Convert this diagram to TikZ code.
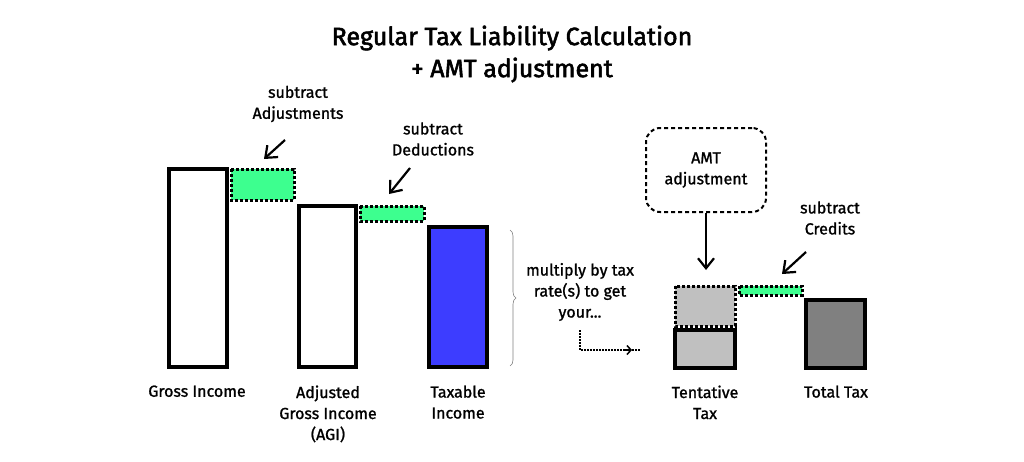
\documentclass[tikz,border=0pt]{standalone}
\usepackage{fontspec}
\setmainfont{Fira Sans}[FakeBold=1.2,BoldFont={Fira Sans},BoldFeatures={FakeBold=2.2}]
\usetikzlibrary{decorations.pathreplacing,arrows.meta}
\definecolor{gr}{HTML}{3DFF8F}
\definecolor{bl}{HTML}{3D3DFF}
\definecolor{lg}{HTML}{C0C0C0}
\definecolor{dg}{HTML}{808080}
\begin{document}
\begin{tikzpicture}[x=1pt,y=-1pt,
 bar/.style={draw=black,line width=4pt},
 grn/.style={fill=gr,draw=black,line width=3pt,dash pattern=on 3pt off 2pt},
 lab/.style={font=\fontsize{16}{21}\selectfont,align=center,anchor=north},
 arr/.style={line width=2.2pt,-{Straight Barb[length=10pt,width=16pt,line width=2.2pt]}}]
\useasboundingbox (0,0) rectangle (1024,461);
\node[font=\fontsize{25}{32}\selectfont\bfseries,align=center] (title) at (512,54) {Regular Tax Liability Calculation\\+ AMT adjustment};
\draw[bar,fill=white] (169,169) rectangle (227,367) coordinate (gi);
\draw[grn] (231,169) rectangle (294,200);
\draw[bar,fill=white] (299,206) rectangle (356,367);
\draw[grn] (360,206) rectangle (424,221);
\draw[bar,fill=bl] (429,227) rectangle (487,367);
\draw[decorate,decoration={brace,amplitude=6pt},gray,line width=0.6pt] (510,230) -- (510,366);
\node[lab,anchor=center] (mult) at (580,292) {multiply by tax\\rate(s) to get\\your...};
\coordinate (d1) at (580,330); \coordinate (d2) at (640,350);
\draw[line width=2pt,dash pattern=on 1.5pt off 1.5pt] (d1) |- (d2);
\draw[line width=1.5pt,-{Straight Barb[length=4pt,width=9pt]}] (624,350) -- (632,350);
\draw[grn,fill=lg] (675,286) rectangle (735,326);
\draw[bar,fill=lg] (675,330) rectangle (735,368);
\draw[grn] (739,286) rectangle (802,295);
\draw[bar,fill=dg] (806,300) rectangle (865,368);
\node[draw,rounded corners=14pt,line width=2pt,dash pattern=on 4pt off 3pt,minimum width=120pt,minimum height=84pt,align=center,font=\fontsize{16}{21}\selectfont] (amt) at (706,170) {AMT\\adjustment};
\coordinate (amtend) at (706,270);
\draw[arr] (amt) -- (amtend);
\node[lab,anchor=center] (sa) at (298,104) {subtract\\Adjustments};
\coordinate (a1) at (285,140); \coordinate (a2) at (264,159);
\draw[arr] (a1) -- (a2);
\node[lab,anchor=center] (sd) at (433,139) {subtract\\Deductions};
\coordinate (b1) at (410,168); \coordinate (b2) at (389,194);
\draw[arr] (b1) -- (b2);
\node[lab,anchor=center] (sc) at (830,218) {subtract\\Credits};
\coordinate (c1) at (806,252); \coordinate (c2) at (782,274);
\draw[arr] (c1) -- (c2);
\node[lab] (l1) at (197,382) {Gross Income};
\node[lab] (l2) at (328,382) {Adjusted\\Gross Income\\(AGI)};
\node[lab] (l3) at (458,382) {Taxable\\Income};
\node[lab] (l4) at (705,382) {Tentative\\Tax};
\node[lab] (l5) at (836,382) {Total Tax};
\end{tikzpicture}
\end{document}
